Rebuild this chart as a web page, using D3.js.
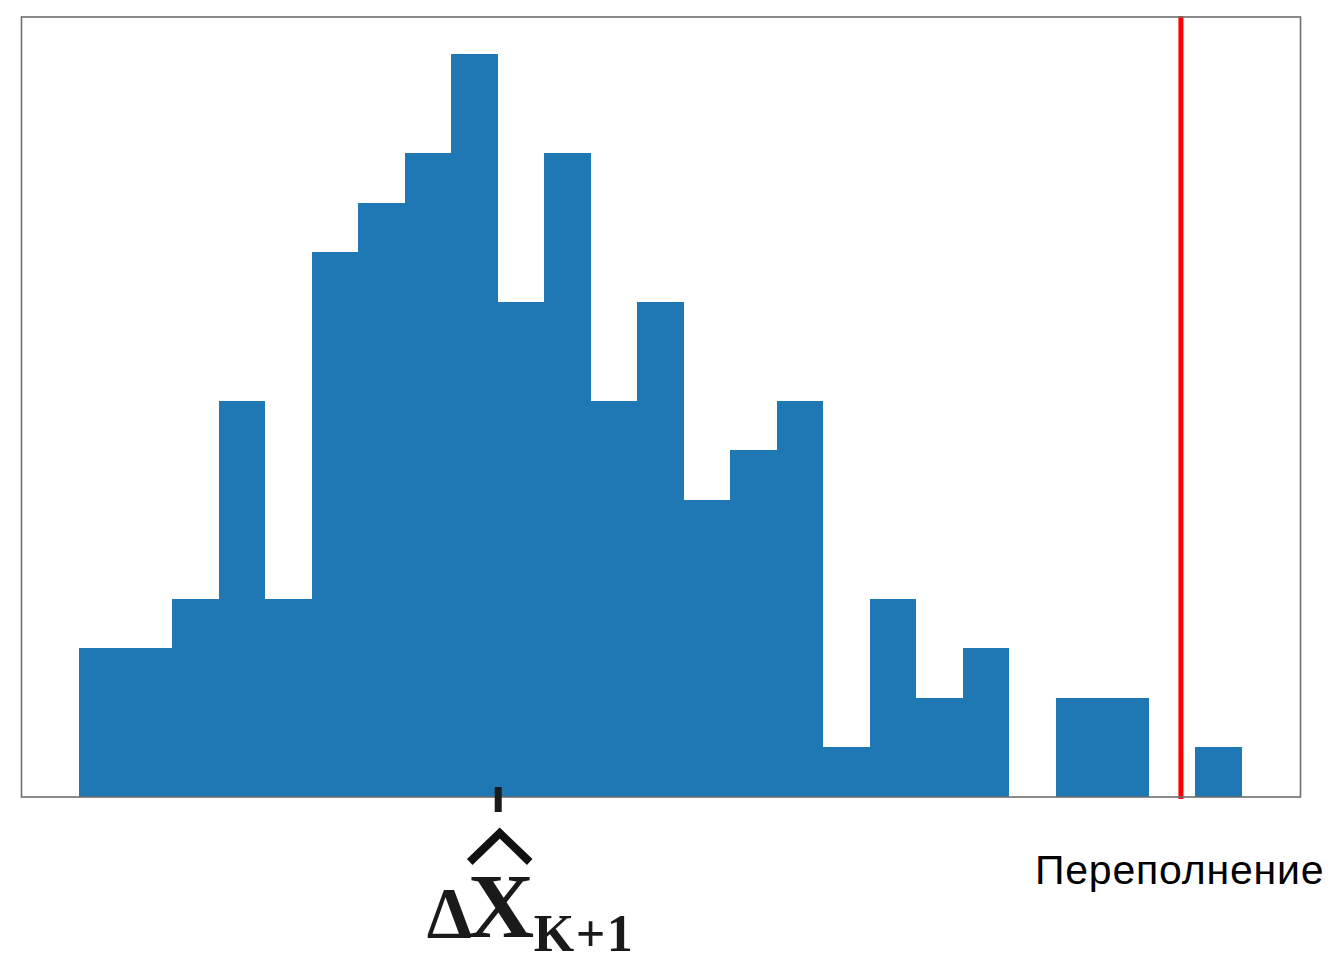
<!DOCTYPE html>
<html>
<head>
<meta charset="utf-8">
<script src="https://cdn.jsdelivr.net/npm/d3@7"></script>
<style>
  html, body { margin: 0; padding: 0; background: #fff; }
  svg { display: block; }
</style>
</head>
<body>
<div id="chart"></div>
<script>
// Histogram bin counts (bins 0..24, unit width)
const binStarts = [0,1,2,3,4,5,6,7,8,9,10,11,12,13,14,15,16,17,18,19,20,21,22,23,24];
const counts    = [3,3,4,8,4,11,12,13,15,10,13,8,10,6,7,8,1,4,2,3,0,2,2,0,1];
const tickValues = [9];
const overflowLine = 23.69;
const overflowLabel = "Переполнение";

const W = 1335, H = 963;
const plot = { left: 21.5, right: 1300.5, top: 17, bottom: 797 };

const svg = d3.select("#chart").append("svg").attr("width", W).attr("height", H);

const x = d3.scaleLinear().domain([-1.25, 26.25]).range([21, 1300]);
const y = d3.scaleLinear().domain([0, 15.75]).range([plot.bottom, plot.top]);

// bars
svg.append("g").selectAll("rect").data(binStarts).join("rect")
  .attr("x", d => x(d))
  .attr("width", d => x(d + 1) - x(d))
  .attr("y", (d, i) => y(counts[i]))
  .attr("height", (d, i) => y(0) - y(counts[i]))
  .attr("fill", "#1f77b4")
  .attr("shape-rendering", "crispEdges");

// overflow line
svg.append("line")
  .attr("x1", x(overflowLine)).attr("x2", x(overflowLine))
  .attr("y1", plot.top - 1).attr("y2", plot.bottom + 2)
  .attr("stroke", "#ff0000").attr("stroke-width", 5);

// spines
svg.append("rect")
  .attr("x", plot.left).attr("y", plot.top)
  .attr("width", plot.right - plot.left).attr("height", plot.bottom - plot.top)
  .attr("fill", "none").attr("stroke", "#6e6e6e").attr("stroke-width", 1.6);

// axis with single tick
const axis = d3.axisBottom(x).tickValues(tickValues).tickSize(15).tickFormat("");
const gAxis = svg.append("g").attr("transform", `translate(0,${plot.bottom})`).call(axis);
gAxis.select(".domain").remove();
gAxis.selectAll(".tick line")
  .attr("y1", -10).attr("y2", 15)
  .attr("stroke", "#1a1a1a").attr("stroke-width", 7);

// tick label: Δ X-hat subscript K+1
const tx = x(tickValues[0]);
const lab = svg.append("g").attr("fill", "#1a1a1a")
  .style("font-family", "'Liberation Serif', 'DejaVu Serif', serif")
  .style("font-weight", "bold");
lab.append("text").attr("x", tx - 71).attr("y", 937).style("font-size", "72px").text("Δ");
lab.append("text").attr("x", tx - 30).attr("y", 937).style("font-size", "92px").text("X");
lab.append("text").attr("x", tx + 36).attr("y", 951).style("font-size", "52px")
  .style("letter-spacing", "1.5px").text("K+1");
// hat accent
lab.append("path")
  .attr("d", `M${tx - 28},${862} L${tx + 2},${833} L${tx + 32},${862}`)
  .attr("fill", "none").attr("stroke", "#111").attr("stroke-width", 8)
  .attr("stroke-linejoin", "miter");

// overflow label
svg.append("text")
  .attr("x", 1035).attr("y", 884)
  .style("font-family", "'Liberation Sans', Arial, sans-serif")
  .style("font-size", "41px")
  .style("letter-spacing", "0.8px")
  .attr("fill", "#000")
  .text(overflowLabel);
</script>
</body>
</html>
